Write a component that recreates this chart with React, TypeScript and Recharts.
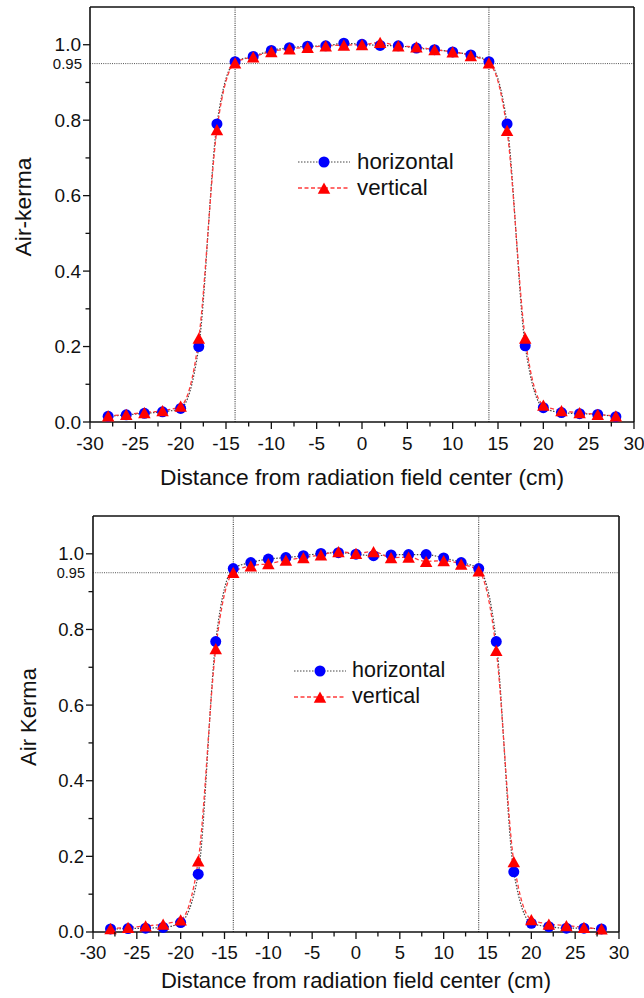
import React from "react";
import {
  LineChart,
  Line,
  XAxis,
  YAxis,
  ReferenceLine,
  Legend,
} from "recharts";

const positions = [
  -28, -26, -24, -22, -20, -18, -16, -14, -12, -10, -8, -6, -4, -2, 0, 2, 4, 6, 8, 10, 12, 14, 16,
  18, 20, 22, 24, 26, 28,
];

// top panel
const topHorizontal = [
  0.015, 0.019, 0.023, 0.027, 0.036, 0.2, 0.79, 0.955, 0.969, 0.985, 0.992, 0.996, 0.997, 1.004,
  1.001, 0.998, 0.997, 0.991, 0.987, 0.981, 0.973, 0.955, 0.79, 0.202, 0.038, 0.025, 0.022, 0.02,
  0.014,
];
const topVertical = [
  0.016, 0.02, 0.025, 0.03, 0.042, 0.222, 0.775, 0.952, 0.968, 0.982, 0.989, 0.993, 0.997, 0.999,
  1.0, 1.006, 0.997, 0.994, 0.987, 0.981, 0.971, 0.952, 0.773, 0.222, 0.045, 0.03, 0.025, 0.02,
  0.016,
];

// bottom panel
const bottomHorizontal = [
  0.008, 0.009, 0.01, 0.012, 0.025, 0.153, 0.768, 0.961, 0.977, 0.986, 0.99, 0.995, 1.001, 1.003,
  0.999, 0.995, 0.997, 0.998, 0.998, 0.989, 0.977, 0.961, 0.768, 0.159, 0.023, 0.014, 0.01, 0.01,
  0.008,
];
const bottomVertical = [
  0.009, 0.012, 0.016, 0.021, 0.032, 0.188, 0.749, 0.951, 0.968, 0.974, 0.983, 0.99, 0.997, 1.006,
  1.001, 1.006, 0.99, 0.991, 0.98, 0.982, 0.973, 0.955, 0.745, 0.186, 0.033, 0.021, 0.017, 0.012,
  0.008,
];

const xMajorTicks = [-30, -25, -20, -15, -10, -5, 0, 5, 10, 15, 20, 25, 30];
const xMinorTicks = [-27.5, -22.5, -17.5, -12.5, -7.5, -2.5, 2.5, 7.5, 12.5, 17.5, 22.5, 27.5];
const yMajorTicks = [0, 0.2, 0.4, 0.6, 0.8, 1.0];
const yMinorTicks = [0.1, 0.3, 0.5, 0.7, 0.9];
const thresholdLevel = 0.95;
const fieldEdges = [-14, 14];

const FONT = '"Liberation Sans", Arial, sans-serif';

const isOn = (list: number[], v: number) => list.some((t) => Math.abs(t - v) < 1e-6);

function Triangle({ cx, cy, size }: { cx: number; cy: number; size: number }) {
  const h = size * 0.9;
  return (
    <polygon
      points={`${cx - size / 2},${cy + h / 2} ${cx + size / 2},${cy + h / 2} ${cx},${cy - h / 2}`}
      fill="#ff0000"
    />
  );
}

function LegendBox({ fs, textGap }: { fs: number; textGap: number }) {
  const row = (label: string, kind: "h" | "v") => (
    <div style={{ display: "flex", alignItems: "center", height: 26 }}>
      <svg width={52} height={26}>
        {kind === "h" ? (
          <>
            <line x1={0} y1={13} x2={52} y2={13} stroke="#444" strokeDasharray="1.5 1.5" />
            <circle cx={26} cy={13} r={5.5} fill="#0000ff" />
          </>
        ) : (
          <>
            <line x1={0} y1={13} x2={52} y2={13} stroke="#ff3b3b" strokeWidth={1.3} strokeDasharray="4 2.5" />
            <Triangle cx={26} cy={13} size={12.5} />
          </>
        )}
      </svg>
      <span style={{ marginLeft: textGap, fontSize: fs, fontFamily: FONT, color: "#111", lineHeight: 1 }}>
        {label}
      </span>
    </div>
  );
  return (
    <div>
      {row("horizontal", "h")}
      {row("vertical", "v")}
    </div>
  );
}

type PanelProps = {
  horizontal: number[];
  vertical: number[];
  yTitle: string;
  width: number;
  height: number;
  margin: { top: number; right: number; bottom: number; left: number };
  tickFs: number;
  smallFs: number;
  titleFs: number;
  yTitlePos: { x: number; y: number };
  xTitleY: number;
  legendPos: { left: number; top: number };
  legendGap: number;
};

function Panel(p: PanelProps) {
  const data = positions.map((x, i) => ({ x, h: p.horizontal[i], v: p.vertical[i] }));
  const plotLeft = p.margin.left + 50;
  const plotRight = p.width - p.margin.right;

  const xTick = (props: any) => {
    const { x, y, payload } = props;
    const major = isOn(xMajorTicks, payload.value);
    return (
      <g>
        <line x1={x} y1={y} x2={x} y2={y + (major ? 7 : 4.5)} stroke="#111" strokeWidth={1.3} />
        {major && (
          <text x={x} y={y + 21} dy="0.35em" textAnchor="middle" fontSize={p.tickFs} fontFamily={FONT} fill="#111">
            {payload.value}
          </text>
        )}
      </g>
    );
  };

  const yTick = (props: any) => {
    const { x, y, payload } = props;
    const v = payload.value;
    if (Math.abs(v - thresholdLevel) < 1e-6) {
      return (
        <text x={x - 8} y={y} dy="0.35em" textAnchor="end" fontSize={p.smallFs} fontFamily={FONT} fill="#111">
          0.95
        </text>
      );
    }
    const major = isOn(yMajorTicks, v);
    return (
      <g>
        <line x1={x} y1={y} x2={x - (major ? 7 : 4.5)} y2={y} stroke="#111" strokeWidth={1.3} />
        {major && (
          <text x={x - 9} y={y} dy="0.35em" textAnchor="end" fontSize={p.tickFs} fontFamily={FONT} fill="#111">
            {v.toFixed(1)}
          </text>
        )}
      </g>
    );
  };

  return (
    <LineChart width={p.width} height={p.height} data={data} margin={p.margin}>
      <XAxis
        dataKey="x"
        type="number"
        domain={[-30, 30]}
        ticks={[...xMajorTicks, ...xMinorTicks]}
        interval={0}
        tickSize={0}
        tickMargin={0}
        tickLine={false}
        tick={xTick}
        height={64}
        axisLine={{ stroke: "#111", strokeWidth: 1.6 }}
        label={() => (
          <text
            x={(plotLeft + plotRight) / 2}
            y={p.xTitleY}
            dy="0.35em"
            textAnchor="middle"
            fontSize={p.titleFs}
            fontFamily={FONT}
            fill="#111"
          >
            Distance from radiation field center (cm)
          </text>
        )}
      />
      <YAxis
        type="number"
        domain={[0, 1.1]}
        ticks={[...yMajorTicks, ...yMinorTicks, thresholdLevel]}
        interval={0}
        tickSize={0}
        tickMargin={0}
        tickLine={false}
        tick={yTick}
        width={50}
        axisLine={{ stroke: "#111", strokeWidth: 1.6 }}
        label={() => (
          <text
            x={p.yTitlePos.x}
            y={p.yTitlePos.y}
            dy="0.35em"
            textAnchor="middle"
            fontSize={p.titleFs}
            fontFamily={FONT}
            fill="#111"
            transform={`rotate(-90 ${p.yTitlePos.x} ${p.yTitlePos.y})`}
          >
            {p.yTitle}
          </text>
        )}
      />
      <ReferenceLine y={thresholdLevel} stroke="#555" strokeDasharray="1 1.2" strokeWidth={1} />
      {fieldEdges.map((e) => (
        <ReferenceLine key={e} x={e} stroke="#222" strokeDasharray="1 1.2" strokeWidth={1} />
      ))}
      <ReferenceLine y={1.1} stroke="#111" strokeWidth={1.6} />
      <ReferenceLine x={30} stroke="#111" strokeWidth={1.6} />
      <Legend
        layout="vertical"
        align="center"
        verticalAlign="middle"
        wrapperStyle={{ left: p.legendPos.left, top: p.legendPos.top, width: "auto" }}
        content={() => <LegendBox fs={p.titleFs - 0.5} textGap={p.legendGap} />}
      />
      <Line
        type="monotone"
        dataKey="h"
        name="horizontal"
        stroke="#444"
        strokeWidth={1.2}
        strokeDasharray="1.5 1.5"
        dot={(d: any) => <circle key={`h${d.index}`} cx={d.cx} cy={d.cy} r={5.5} fill="#0000ff" />}
        activeDot={false}
        isAnimationActive={false}
      />
      <Line
        type="monotone"
        dataKey="v"
        name="vertical"
        stroke="#ff3b3b"
        strokeWidth={1.3}
        strokeDasharray="4 2.5"
        dot={(d: any) => <Triangle key={`v${d.index}`} cx={d.cx} cy={d.cy} size={12.5} />}
        activeDot={false}
        isAnimationActive={false}
      />
    </LineChart>
  );
}

export default function App() {
  return (
    <div style={{ position: "absolute", left: 0, top: 0, width: 644, height: 998, background: "#fff" }}>
      <div style={{ position: "absolute", left: 0, top: 0 }}>
        <Panel
          horizontal={topHorizontal}
          vertical={topVertical}
          yTitle="Air-kerma"
          width={644}
          height={500}
          margin={{ top: 7, right: 10, bottom: 14, left: 40 }}
          tickFs={19}
          smallFs={15}
          titleFs={22.8}
          yTitlePos={{ x: 23, y: 207 }}
          xTitleY={477}
          legendPos={{ left: 298, top: 149 }}
          legendGap={7}
        />
      </div>
      <div style={{ position: "absolute", left: 0, top: 500 }}>
        <Panel
          horizontal={bottomHorizontal}
          vertical={bottomVertical}
          yTitle="Air Kerma"
          width={644}
          height={498}
          margin={{ top: 16, right: 25, bottom: 2, left: 43 }}
          tickFs={18.5}
          smallFs={14.5}
          titleFs={22}
          yTitlePos={{ x: 28, y: 217 }}
          xTitleY={480}
          legendPos={{ left: 294, top: 158 }}
          legendGap={6}
        />
      </div>
    </div>
  );
}
